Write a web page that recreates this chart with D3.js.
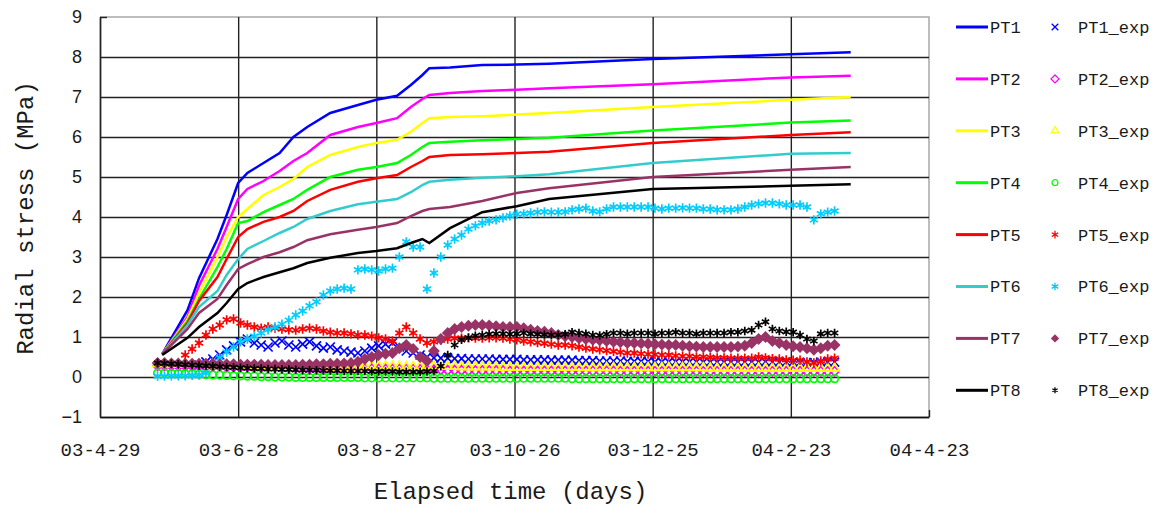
<!DOCTYPE html>
<html lang="en">
<head>
<meta charset="UTF-8">
<title>Radial stress vs elapsed time</title>
<script src="https://d3js.org/d3.v7.min.js"></script>
<style>
    body { margin: 0; background: #fff; }
    .ytick text { font-family: "Liberation Sans", Arial, sans-serif; font-size: 18px; fill: #1a1a1a; }
    .xtick text { font-family: "Liberation Mono", monospace; font-size: 19px; fill: #1a1a1a; }
    .title { font-family: "Liberation Mono", monospace; font-size: 24px; fill: #1a1a1a; }
    .legend text { font-family: "Liberation Mono", monospace; font-size: 17px; fill: #1a1a1a; }
</style>
</head>
<body>
<div id="chart"></div>
<script>

    // tick labels / axis domain
    var tickDates = ["2003-04-29", "2003-06-28", "2003-08-27", "2003-10-26", "2003-12-25", "2004-02-23", "2004-04-23"];
    var yTicks = [-1, 0, 1, 2, 3, 4, 5, 6, 7, 8, 9];

    // model curves, days after 03-4-29
    var lineDays = [27, 38, 43, 51, 55, 60, 64, 71, 78, 84, 90, 100, 112, 120, 129, 135, 140, 143, 152, 166, 181, 195, 240, 300, 326];
    var pt1 = [0.57, 1.67, 2.47, 3.45, 4.05, 4.85, 5.1, 5.35, 5.6, 6.0, 6.25, 6.6, 6.8, 6.93, 7.03, 7.3, 7.55, 7.72, 7.74, 7.8, 7.81, 7.83, 7.95, 8.07, 8.12];
    var pt2 = [0.57, 1.5, 2.28, 3.2, 3.75, 4.45, 4.7, 4.9, 5.15, 5.4, 5.6, 6.05, 6.25, 6.35, 6.47, 6.75, 6.95, 7.05, 7.1, 7.15, 7.18, 7.22, 7.32, 7.49, 7.53];
    var pt3 = [0.57, 1.45, 2.1, 3.0, 3.5, 4.0, 4.2, 4.55, 4.75, 4.95, 5.25, 5.55, 5.75, 5.85, 5.93, 6.13, 6.35, 6.47, 6.5, 6.52, 6.56, 6.6, 6.75, 6.93, 7.0];
    var pt4 = [0.57, 1.4, 1.95, 2.75, 3.2, 3.85, 3.9, 4.12, 4.3, 4.45, 4.68, 5.0, 5.18, 5.25, 5.35, 5.55, 5.75, 5.85, 5.88, 5.92, 5.95, 5.98, 6.16, 6.36, 6.41];
    var pt5 = [0.57, 1.35, 1.9, 2.5, 2.95, 3.5, 3.7, 3.88, 4.0, 4.15, 4.4, 4.68, 4.88, 4.97, 5.05, 5.25, 5.4, 5.5, 5.55, 5.57, 5.6, 5.63, 5.85, 6.05, 6.12];
    var pt6 = [0.57, 1.3, 1.75, 2.15, 2.55, 2.95, 3.2, 3.4, 3.6, 3.75, 3.95, 4.15, 4.32, 4.38, 4.45, 4.62, 4.8, 4.88, 4.93, 4.98, 5.02, 5.07, 5.35, 5.58, 5.6];
    var pt7 = [0.57, 1.2, 1.6, 1.95, 2.3, 2.7, 2.82, 3.0, 3.12, 3.25, 3.42, 3.57, 3.68, 3.75, 3.85, 4.02, 4.15, 4.2, 4.25, 4.4, 4.6, 4.72, 5.0, 5.18, 5.25];
    var pt8 = [0.55, 0.98, 1.25, 1.6, 1.85, 2.2, 2.35, 2.5, 2.62, 2.72, 2.85, 2.98, 3.1, 3.15, 3.22, 3.35, 3.45, 3.35, 3.72, 4.12, 4.27, 4.45, 4.7, 4.78, 4.82];

    // measured values, read every 3 days
    var expDays = [25, 28, 31, 34, 37, 40, 43, 46, 49, 52, 55, 58, 61, 64, 67, 70, 73, 76, 79, 82,
        85, 88, 91, 94, 97, 100, 103, 106, 109, 112, 115, 118, 121, 124, 127, 130, 133, 136, 139, 142,
        145, 148, 151, 154, 157, 160, 163, 166, 169, 172, 175, 178, 181, 184, 187, 190, 193, 196, 199, 202,
        205, 208, 211, 214, 217, 220, 223, 226, 229, 232, 235, 238, 241, 244, 247, 250, 253, 256, 259, 262,
        265, 268, 271, 274, 277, 280, 283, 286, 289, 292, 295, 298, 301, 304, 307, 310, 313, 316, 319];
    var pt1Exp = [null, null, null, null, null, null, 0.30, 0.38, 0.45, 0.55, 0.68, 0.78, 0.88, 0.95, 0.85, 0.80,
        0.75, 0.85, 0.90, 0.80, 0.75, 0.82, 0.88, 0.78, 0.72, 0.75, 0.68, 0.65, 0.62, 0.60, 0.65, 0.72, 0.78, 0.82, 0.85, 0.75,
        0.65, 0.60, 0.55, 0.50, 0.48, 0.47, 0.47, 0.46, 0.46, 0.45, 0.45, 0.45, 0.45, 0.44, 0.44, 0.44, 0.44, 0.43, 0.43, 0.43,
        0.43, 0.42, 0.42, 0.42, 0.42, 0.41, 0.41, 0.41, 0.40, 0.40, 0.40, 0.40, 0.39, 0.39, 0.39, 0.39, 0.38, 0.38, 0.38, 0.38,
        0.38, 0.38, 0.38, 0.37, 0.37, 0.37, 0.37, 0.37, 0.37, 0.37, 0.37, 0.37, 0.38, 0.37, 0.37, 0.37, 0.37, 0.36, 0.36, 0.36,
        0.37, 0.37, 0.37];
    var pt2Exp = [0.28, 0.28, 0.28, 0.27, 0.27, 0.27, 0.27, 0.26, 0.26, 0.26, 0.25, 0.25, 0.25, 0.25, 0.24, 0.24, 0.24, 0.24, 0.23, 0.23,
        0.23, 0.23, 0.22, 0.22, 0.22, 0.22, 0.22, 0.21, 0.21, 0.21, 0.21, 0.21, 0.20, 0.20, 0.20, 0.20, 0.20, 0.20, 0.19, 0.19,
        0.18, 0.18, 0.17, 0.17, 0.17, 0.16, 0.16, 0.16, 0.16, 0.16, 0.16, 0.15, 0.15, 0.15, 0.15, 0.15, 0.15, 0.15, 0.15, 0.15,
        0.15, 0.15, 0.15, 0.15, 0.15, 0.15, 0.15, 0.14, 0.14, 0.14, 0.14, 0.14, 0.14, 0.14, 0.14, 0.14, 0.14, 0.14, 0.14, 0.14,
        0.14, 0.14, 0.14, 0.14, 0.14, 0.14, 0.14, 0.14, 0.14, 0.14, 0.14, 0.14, 0.14, 0.14, 0.14, 0.14, 0.14, 0.14, 0.14];
    var pt3Exp = [0.33, 0.33, 0.32, 0.32, 0.32, 0.31, 0.31, 0.31, 0.30, 0.30, 0.30, 0.29, 0.29, 0.29, 0.28, 0.28, 0.28, 0.27, 0.27, 0.27,
        0.27, 0.26, 0.26, 0.26, 0.26, 0.25, 0.25, 0.25, 0.25, 0.25, 0.26, 0.27, 0.27, 0.27, 0.26, 0.26, 0.25, 0.25, 0.26, 0.27,
        0.27, 0.26, 0.26, 0.26, 0.25, 0.25, 0.25, 0.25, 0.25, 0.25, 0.24, 0.24, 0.24, 0.24, 0.24, 0.24, 0.24, 0.24, 0.24, 0.24,
        0.24, 0.24, 0.23, 0.23, 0.23, 0.23, 0.23, 0.23, 0.23, 0.23, 0.23, 0.23, 0.23, 0.23, 0.23, 0.23, 0.23, 0.23, 0.23, 0.23,
        0.22, 0.22, 0.22, 0.22, 0.22, 0.22, 0.22, 0.22, 0.22, 0.22, 0.22, 0.22, 0.22, 0.22, 0.22, 0.22, 0.22, 0.22, 0.22];
    var pt4Exp = [0.10, 0.10, 0.09, 0.09, 0.08, 0.08, 0.07, 0.06, 0.05, 0.05, 0.04, 0.03, 0.03, 0.02, 0.02, 0.01, 0.01, 0.00, 0.00, 0.00,
        -0.01, -0.01, -0.01, -0.01, -0.01, -0.01, -0.01, -0.01, -0.01, -0.01, -0.02, -0.02, -0.02, -0.02, -0.02, -0.02, -0.02, -0.02, -0.02, -0.02,
        -0.03, -0.03, -0.03, -0.03, -0.03, -0.03, -0.03, -0.03, -0.03, -0.03, -0.03, -0.03, -0.03, -0.03, -0.03, -0.03, -0.03, -0.03, -0.03, -0.03,
        -0.04, -0.04, -0.04, -0.04, -0.04, -0.04, -0.04, -0.04, -0.04, -0.04, -0.04, -0.04, -0.04, -0.04, -0.04, -0.04, -0.04, -0.04, -0.04, -0.04,
        -0.04, -0.04, -0.04, -0.04, -0.04, -0.04, -0.04, -0.04, -0.04, -0.04, -0.04, -0.04, -0.04, -0.04, -0.04, -0.04, -0.04, -0.04, -0.04];
    var pt5Exp = [null, null, null, null, 0.55, 0.70, 0.85, 1.05, 1.20, 1.30, 1.43, 1.45, 1.35, 1.30,
        1.25, 1.22, 1.25, 1.22, 1.20, 1.18, 1.17, 1.20, 1.22, 1.20, 1.15, 1.12, 1.10, 1.10, 1.08, 1.05, 1.05, 1.02, 0.98, 0.95,
        0.90, 1.10, 1.25, 1.10, 0.95, 0.85, 0.88, 0.92, 0.95, 0.97, 0.97, 0.98, 0.97, 0.97, 0.98, 0.98, 0.97, 0.95, 0.93, 0.90,
        0.88, 0.86, 0.84, 0.82, 0.80, 0.80, 0.78, 0.75, 0.72, 0.70, 0.68, 0.66, 0.64, 0.62, 0.60, 0.60, 0.58, 0.57, 0.56, 0.55,
        0.55, 0.53, 0.52, 0.52, 0.50, 0.50, 0.49, 0.48, 0.48, 0.47, 0.47, 0.47, 0.47, 0.50, 0.48, 0.46, 0.45, 0.43, 0.42, 0.42,
        0.38, 0.35, 0.40, 0.45, 0.47];
    var pt6Exp = [0.02, 0.02, 0.03, 0.03, 0.03, 0.04, 0.05, 0.10, 0.30, 0.48, 0.62, 0.75, 0.88, 0.95, 1.02, 1.10, 1.18, 1.25, 1.32, 1.42,
        1.55, 1.65, 1.78, 1.88, 2.05, 2.15, 2.20, 2.22, 2.20, 2.68, 2.70, 2.68, 2.65, 2.70, 2.72, 3.00, 3.38, 3.25, 3.25, 2.20,
        2.60, 3.00, 3.30, 3.45, 3.55, 3.70, 3.78, 3.85, 3.90, 3.93, 3.98, 4.03, 4.07, 4.08, 4.10, 4.12, 4.13, 4.12, 4.12, 4.13,
        4.18, 4.20, 4.22, 4.15, 4.13, 4.20, 4.25, 4.25, 4.25, 4.25, 4.25, 4.25, 4.22, 4.20, 4.22, 4.22, 4.23, 4.22, 4.22, 4.20,
        4.20, 4.18, 4.18, 4.18, 4.20, 4.25, 4.30, 4.33, 4.35, 4.35, 4.33, 4.30, 4.30, 4.30, 4.25, 3.93, 4.08, 4.12, 4.15];
    var pt7Exp = [0.35, 0.35, 0.34, 0.34, 0.33, 0.33, 0.33, 0.33, 0.32, 0.32, 0.32, 0.32, 0.31, 0.31, 0.31, 0.31, 0.30, 0.30, 0.30, 0.30,
        0.30, 0.31, 0.31, 0.32, 0.32, 0.33, 0.33, 0.34, 0.35, 0.38, 0.45, 0.50, 0.55, 0.58, 0.60, 0.72, 0.80, 0.70, 0.50, 0.40,
        0.65, 0.95, 1.10, 1.20, 1.25, 1.28, 1.30, 1.30, 1.29, 1.27, 1.25, 1.25, 1.25, 1.22, 1.18, 1.15, 1.13, 1.10, 1.05, 1.02,
        1.00, 0.97, 0.95, 0.93, 0.92, 0.90, 0.88, 0.87, 0.85, 0.85, 0.84, 0.83, 0.82, 0.81, 0.80, 0.80, 0.78, 0.77, 0.76, 0.75,
        0.75, 0.75, 0.75, 0.75, 0.76, 0.78, 0.85, 0.95, 1.00, 0.90, 0.85, 0.80, 0.77, 0.75, 0.72, 0.68, 0.72, 0.78, 0.80];
    var pt8Exp = [0.35, 0.34, 0.33, 0.32, 0.31, 0.30, 0.29, 0.28, 0.27, 0.26, 0.25, 0.24, 0.23, 0.22, 0.21, 0.21, 0.20, 0.20, 0.19, 0.19,
        0.18, 0.17, 0.17, 0.17, 0.16, 0.16, 0.16, 0.15, 0.15, 0.15, 0.15, 0.14, 0.14, 0.14, 0.14, 0.13, 0.13, 0.13, 0.13, 0.14,
        0.15, 0.27, 0.55, 0.80, 0.93, 0.98, 1.03, 1.05, 1.07, 1.08, 1.08, 1.07, 1.08, 1.10, 1.08, 1.07, 1.06, 1.05, 1.05, 1.07,
        1.12, 1.10, 1.08, 1.05, 1.04, 1.07, 1.10, 1.10, 1.08, 1.10, 1.10, 1.10, 1.08, 1.10, 1.10, 1.12, 1.10, 1.10, 1.08, 1.10,
        1.10, 1.10, 1.10, 1.12, 1.12, 1.15, 1.17, 1.30, 1.38, 1.20, 1.15, 1.13, 1.12, 1.05, 0.95, 0.90, 1.08, 1.10, 1.10];

    var lineSeries = [
        {name: "PT1", values: pt1, color: "#0000ff"},
        {name: "PT2", values: pt2, color: "#ff00ff"},
        {name: "PT3", values: pt3, color: "#ffff00"},
        {name: "PT4", values: pt4, color: "#00ff00"},
        {name: "PT5", values: pt5, color: "#ff0000"},
        {name: "PT6", values: pt6, color: "#33cccc"},
        {name: "PT7", values: pt7, color: "#993366"},
        {name: "PT8", values: pt8, color: "#000000"}
    ];
    // size = symbol size in the plot, legendSize = size in the legend
    var expSeries = [
        {name: "PT1_exp", values: pt1Exp, color: "#0000ff", symbol: d3.symbolTimes, size: 55, legendSize: 30, filled: false},
        {name: "PT2_exp", values: pt2Exp, color: "#ff00ff", symbol: d3.symbolDiamond2, size: 55, legendSize: 40, filled: false},
        {name: "PT3_exp", values: pt3Exp, color: "#ffff00", symbol: d3.symbolTriangle2, size: 60, legendSize: 40, filled: false},
        {name: "PT4_exp", values: pt4Exp, color: "#00ff00", symbol: d3.symbolCircle, size: 45, legendSize: 28, filled: false},
        {name: "PT5_exp", values: pt5Exp, color: "#ff0000", symbol: d3.symbolAsterisk, size: 60, legendSize: 40, filled: false},
        {name: "PT6_exp", values: pt6Exp, color: "#00ccff", symbol: d3.symbolAsterisk, size: 60, legendSize: 40, filled: false},
        {name: "PT7_exp", values: pt7Exp, color: "#993366", symbol: d3.symbolDiamond2, size: 90, legendSize: 45, filled: true},
        {name: "PT8_exp", values: pt8Exp, color: "#000000", symbol: d3.symbolAsterisk, size: 50, legendSize: 25, filled: false}
    ];

    var margin = {top: 17, right: 228, bottom: 91, left: 100},
        width = 1157 - margin.left - margin.right,
        height = 508 - margin.top - margin.bottom;

    var svg = d3.select("#chart")
        .append("svg")
        .attr("width", 1157)
        .attr("height", 508);

    var g = svg.append("g")
        .attr("transform", "translate(" + margin.left + "," + margin.top + ")");

    var parseDate = d3.utcParse("%Y-%m-%d");
    var tickValues = tickDates.map(parseDate);
    var start = tickValues[0];
    function toDate(day) { return d3.utcDay.offset(start, day); }

    var x = d3.scaleUtc()
        .domain([tickValues[0], tickValues[tickValues.length - 1]])
        .range([0, width]);
    var y = d3.scaleLinear()
        .domain([-1, 9])
        .range([height, 0]);

    // grey plot border (top / right)
    g.append("path")
        .attr("d", "M0," + y(9) + "H" + width + "V" + height)
        .attr("fill", "none")
        .attr("stroke", "#a8a8a8")
        .attr("stroke-width", 1.5);

    // Y axis with gridlines
    var yAxis = g.append("g")
        .attr("class", "ytick")
        .call(d3.axisLeft(y).tickValues(yTicks).tickSize(-width).tickSizeOuter(0).tickPadding(18).tickFormat(d3.format("d")));
    yAxis.selectAll(".tick line")
        .attr("stroke", "#222")
        .attr("stroke-width", 1.4)
        .attr("x2", function (d) { return d === 9 ? 7 : width; });
    yAxis.select(".domain").attr("stroke", "#111").attr("stroke-width", 1.4);

    // X axis with gridlines
    var xAxis = g.append("g")
        .attr("class", "xtick")
        .attr("transform", "translate(0," + height + ")")
        .call(d3.axisBottom(x).tickValues(tickValues).tickSize(-height).tickSizeOuter(0).tickPadding(26)
            .tickFormat(d3.utcFormat("%y-%-m-%-d")));
    xAxis.selectAll(".tick line")
        .attr("stroke", "#222")
        .attr("stroke-width", 1.4)
        .attr("y2", function (d, i) { return i === tickValues.length - 1 ? -7 : -height; });
    xAxis.select(".domain").attr("stroke", "#111").attr("stroke-width", 1.4);

    // measured points
    expSeries.forEach(function (s) {
        var pts = s.values.map(function (v, i) { return {date: toDate(expDays[i]), v: v}; })
            .filter(function (d) { return d.v !== null; });
        g.append("g")
            .selectAll("path")
            .data(pts)
            .enter()
            .append("path")
            .attr("transform", function (d) { return "translate(" + x(d.date) + "," + y(d.v) + ")"; })
            .attr("d", d3.symbol().type(s.symbol).size(s.size))
            .attr("fill", s.filled ? s.color : "none")
            .attr("stroke", s.filled ? "none" : s.color)
            .attr("stroke-width", 1.7);
    });

    // model lines
    var line = d3.line()
        .x(function (d) { return x(d.date); })
        .y(function (d) { return y(d.v); });

    lineSeries.forEach(function (s) {
        var pts = s.values.map(function (v, i) { return {date: toDate(lineDays[i]), v: v}; });
        g.append("path")
            .datum(pts)
            .attr("fill", "none")
            .attr("stroke", s.color)
            .attr("stroke-width", 2.5)
            .attr("d", line);
    });

    // axis titles
    svg.append("text")
        .attr("class", "title")
        .attr("x", margin.left + width / 2 - 4)
        .attr("y", 499)
        .attr("text-anchor", "middle")
        .text("Elapsed time (days)");

    svg.append("text")
        .attr("class", "title")
        .attr("transform", "translate(33," + (margin.top + 201) + ") rotate(-90)")
        .attr("text-anchor", "middle")
        .text("Radial stress (MPa)");

    // legend
    var legend = svg.append("g").attr("class", "legend");
    lineSeries.forEach(function (s, i) {
        var ly = 27 + i * 51.9;
        legend.append("line")
            .attr("x1", 956).attr("x2", 988)
            .attr("y1", ly).attr("y2", ly)
            .attr("stroke", s.color)
            .attr("stroke-width", 3);
        legend.append("text")
            .attr("x", 990).attr("y", ly)
            .attr("dy", "0.35em")
            .text(s.name);
    });
    expSeries.forEach(function (s, i) {
        var ly = 27 + i * 51.9;
        legend.append("path")
            .attr("transform", "translate(1055," + ly + ")")
            .attr("d", d3.symbol().type(s.symbol).size(s.legendSize))
            .attr("fill", s.filled ? s.color : "none")
            .attr("stroke", s.filled ? "none" : s.color)
            .attr("stroke-width", 1.3);
        legend.append("text")
            .attr("x", 1078).attr("y", ly)
            .attr("dy", "0.35em")
            .text(s.name);
    });

</script>
</body>
</html>
